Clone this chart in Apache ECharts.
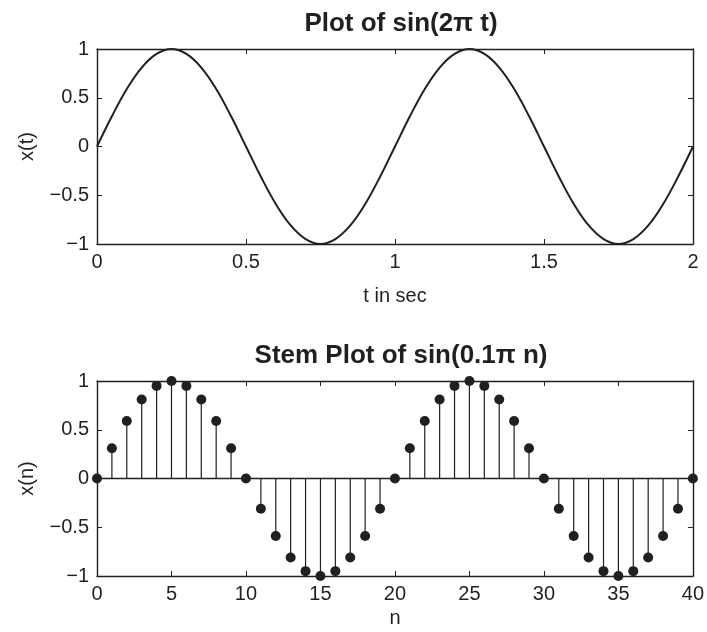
<!DOCTYPE html>
<html>
<head>
<meta charset="utf-8">
<script src="https://cdn.jsdelivr.net/npm/echarts@6/dist/echarts.min.js"></script>
<style>
  html, body { margin: 0; padding: 0; background: #fff; }
  #chart { width: 707px; height: 632px; }
</style>
</head>
<body>
<div id="chart"></div>
<script>
const INK = "#231f20";
const FONT = "'Liberation Sans', Arial, Helvetica, sans-serif";

// top panel: x(t) every 0.05 s
const timeValues = [
  0, 0.05, 0.1, 0.15, 0.2, 0.25, 0.3, 0.35, 0.4, 0.45,
  0.5, 0.55, 0.6, 0.65, 0.7, 0.75, 0.8, 0.85, 0.9, 0.95,
  1, 1.05, 1.1, 1.15, 1.2, 1.25, 1.3, 1.35, 1.4, 1.45,
  1.5, 1.55, 1.6, 1.65, 1.7, 1.75, 1.8, 1.85, 1.9, 1.95, 2,
];
const curveValues = [
  0, 0.31, 0.59, 0.81, 0.95, 1, 0.95, 0.81, 0.59, 0.31,
  0, -0.31, -0.59, -0.81, -0.95, -1, -0.95, -0.81, -0.59, -0.31,
  0, 0.31, 0.59, 0.81, 0.95, 1, 0.95, 0.81, 0.59, 0.31,
  0, -0.31, -0.59, -0.81, -0.95, -1, -0.95, -0.81, -0.59, -0.31, 0,
];

// bottom panel: stem heights for n = 0..40
const sampleIndex = [
  0, 1, 2, 3, 4, 5, 6, 7, 8, 9, 10, 11, 12, 13, 14, 15, 16, 17, 18, 19, 20,
  21, 22, 23, 24, 25, 26, 27, 28, 29, 30, 31, 32, 33, 34, 35, 36, 37, 38, 39, 40,
];
const stemValues = [
  0, 0.31, 0.59, 0.81, 0.95, 1, 0.95, 0.81, 0.59, 0.31,
  0, -0.31, -0.59, -0.81, -0.95, -1, -0.95, -0.81, -0.59, -0.31,
  0, 0.31, 0.59, 0.81, 0.95, 1, 0.95, 0.81, 0.59, 0.31,
  0, -0.31, -0.59, -0.81, -0.95, -1, -0.95, -0.81, -0.59, -0.31, 0,
];

const TEXT = {
  topTitle: "Plot of sin(2\u03c0 t)",
  bottomTitle: "Stem Plot of sin(0.1\u03c0 n)",
  topXName: "t in sec",
  topYName: "x(t)",
  bottomXName: "n",
  bottomYName: "x(n)",
};

function formatTick(value) {
  return String(value).replace("-", "\u2212");
}

function makeAxis(extra) {
  const base = {
    type: "value",
    axisLine: { show: true, onZero: false, lineStyle: { color: INK, width: 1.4 } },
    axisTick: { show: true, inside: true, length: 5, lineStyle: { color: INK, width: 1 } },
    axisLabel: {
      show: true,
      color: INK,
      fontFamily: FONT,
      fontSize: 20,
      margin: 8,
      formatter: formatTick,
      showMinLabel: true,
      showMaxLabel: true,
    },
    splitLine: { show: false },
    nameTextStyle: { color: INK, fontFamily: FONT, fontSize: 20 },
  };
  return Object.assign(base, extra);
}

function mirrorAxis(extra) {
  const axis = makeAxis(extra);
  axis.axisLabel = { show: false };
  return axis;
}

const pairs = stemValues.map((v, i) => [sampleIndex[i], v]);

const chart = echarts.init(document.getElementById("chart"), undefined, { renderer: "canvas" });

chart.setOption({
  animation: false,
  backgroundColor: "#fff",
  title: [
    {
      text: TEXT.topTitle,
      left: 396,
      top: 6,
      textAlign: "center",
      textStyle: { color: INK, fontFamily: FONT, fontSize: 26, fontWeight: "bold" },
    },
    {
      text: TEXT.bottomTitle,
      left: 396,
      top: 338,
      textAlign: "center",
      textStyle: { color: INK, fontFamily: FONT, fontSize: 26, fontWeight: "bold" },
    },
  ],
  grid: [
    { left: 97, top: 49, width: 596, height: 195 },
    { left: 97, top: 381, width: 596, height: 195 },
  ],
  xAxis: [
    makeAxis({
      gridIndex: 0, position: "bottom", min: 0, max: 2, interval: 0.5,
      name: TEXT.topXName, nameLocation: "middle", nameGap: 42,
    }),
    mirrorAxis({ gridIndex: 0, position: "top", min: 0, max: 2, interval: 0.5 }),
    makeAxis({
      gridIndex: 1, position: "bottom", min: 0, max: 40, interval: 5,
      name: TEXT.bottomXName, nameLocation: "middle", nameGap: 32,
    }),
    mirrorAxis({ gridIndex: 1, position: "top", min: 0, max: 40, interval: 5 }),
  ],
  yAxis: [
    makeAxis({
      gridIndex: 0, position: "left", min: -1, max: 1, interval: 0.5,
      name: TEXT.topYName, nameLocation: "middle", nameGap: 60,
    }),
    mirrorAxis({ gridIndex: 0, position: "right", min: -1, max: 1, interval: 0.5 }),
    makeAxis({
      gridIndex: 1, position: "left", min: -1, max: 1, interval: 0.5,
      name: TEXT.bottomYName, nameLocation: "middle", nameGap: 60,
    }),
    mirrorAxis({ gridIndex: 1, position: "right", min: -1, max: 1, interval: 0.5 }),
  ],
  series: [
    {
      type: "line",
      xAxisIndex: 0,
      yAxisIndex: 0,
      data: curveValues.map((v, i) => [timeValues[i], v]),
      smooth: 0.4,
      showSymbol: false,
      lineStyle: { color: INK, width: 2 },
    },
    {
      type: "custom",
      xAxisIndex: 2,
      yAxisIndex: 2,
      data: pairs,
      z: 3,
      renderItem: (params, api) => {
        const base = api.coord([api.value(0), 0]);
        const tip = api.coord([api.value(0), api.value(1)]);
        return {
          type: "line",
          shape: { x1: base[0], y1: base[1], x2: tip[0], y2: tip[1] },
          style: { stroke: INK, lineWidth: 1.2 },
        };
      },
    },
    {
      type: "scatter",
      xAxisIndex: 2,
      yAxisIndex: 2,
      data: pairs,
      symbol: "circle",
      symbolSize: 10,
      z: 4,
      itemStyle: { color: INK, opacity: 1 },
      markLine: {
        silent: true,
        symbol: "none",
        label: { show: false },
        lineStyle: { color: INK, width: 1.3, type: "solid", opacity: 1 },
        data: [{ yAxis: 0 }],
      },
    },
  ],
});
</script>
</body>
</html>
